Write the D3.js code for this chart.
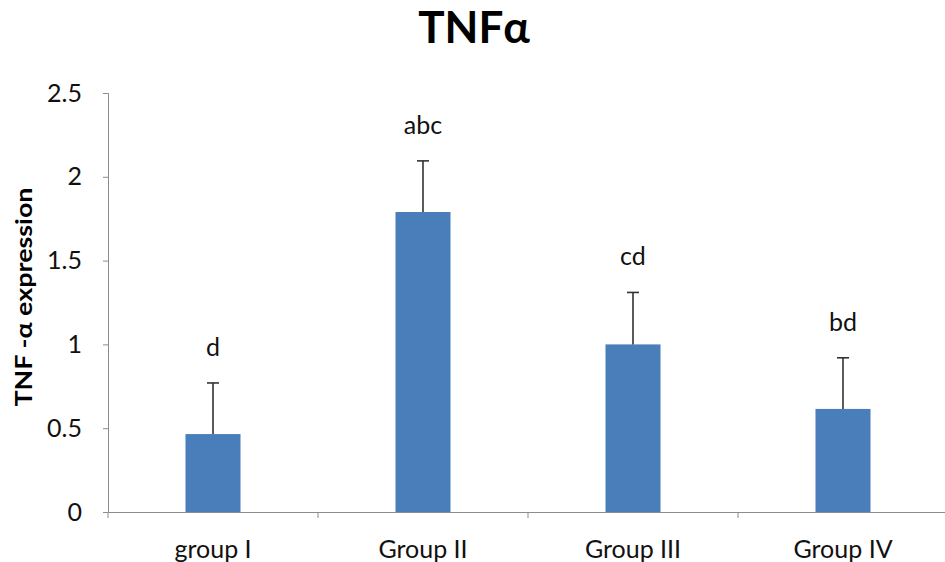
<!DOCTYPE html>
<html><head><meta charset="utf-8">
<script src="https://cdn.jsdelivr.net/npm/d3@7"></script>
<style>body{margin:0;background:#fff}svg{display:block}text{font-family:Lato,"Open Sans",sans-serif}</style>
</head><body>
<svg id="c" width="945" height="562"></svg>
<script>
const categories = ["group I", "Group II", "Group III", "Group IV"];
const values = [0.465, 1.79, 1.0, 0.615];
const errors = [0.305, 0.305, 0.31, 0.305];
const letters = ["d", "abc", "cd", "bd"];
const yTicks = [0, 0.5, 1, 1.5, 2, 2.5];

const svg = d3.select("#c");
const m = {l:108, r:948, t:93, b:512};
const x = d3.scaleBand().domain(categories).range([m.l, m.r]).paddingInner(0.738).paddingOuter(0.369);
const y = d3.scaleLinear().domain([0, 2.5]).range([m.b, m.t]);

const yAx = svg.append("g").attr("transform", `translate(${m.l},0)`)
  .call(d3.axisLeft(y).tickValues(yTicks).tickFormat(d3.format("")).tickSize(5).tickPadding(21));
yAx.select(".domain").attr("stroke", "#8c8c8c");
yAx.selectAll(".tick line").attr("stroke", "#8c8c8c");
yAx.selectAll("text").attr("font-size", 25).attr("fill", "#111");

const band = d3.scaleBand().domain(categories).range([m.l, m.r]);
const xAx = svg.append("g").attr("transform", `translate(0,${m.b})`)
  .call(d3.axisBottom(band).tickSize(0).tickPadding(28));
xAx.select(".domain").attr("stroke", "#8c8c8c");
xAx.selectAll("text").attr("font-size", 25).attr("fill", "#111");
const bounds = categories.map(c => band(c));
svg.append("g").selectAll("line").data(bounds).join("line")
  .attr("x1", d => d).attr("x2", d => d).attr("y1", m.b).attr("y2", m.b + 6)
  .attr("stroke", "#8c8c8c");

svg.append("g").selectAll("rect").data(values).join("rect")
  .attr("x", (d, i) => x(categories[i])).attr("width", x.bandwidth())
  .attr("y", d => y(d)).attr("height", d => y(0) - y(d))
  .attr("fill", "#4a7ebb");

const eb = svg.append("g").attr("stroke", "#333").attr("stroke-width", 1.6);
values.forEach((v, i) => {
  const cx = x(categories[i]) + x.bandwidth() / 2;
  eb.append("line").attr("x1", cx).attr("x2", cx).attr("y1", y(v)).attr("y2", y(v + errors[i]));
  eb.append("line").attr("x1", cx - 6).attr("x2", cx + 6).attr("y1", y(v + errors[i])).attr("y2", y(v + errors[i]));
});

svg.append("g").selectAll("text").data(letters).join("text")
  .attr("x", (d, i) => x(categories[i]) + x.bandwidth() / 2)
  .attr("y", (d, i) => y(values[i] + errors[i]) - 27)
  .attr("text-anchor", "middle").attr("font-size", 25).attr("fill", "#111").text(d => d);

svg.append("text").attr("x", 474).attr("y", 43).attr("text-anchor", "middle")
  .attr("font-size", 44).attr("font-weight", "bold").attr("fill", "#000").text("TNFα");

svg.append("text").attr("transform", "translate(32,297) rotate(-90)").attr("text-anchor", "middle")
  .attr("font-size", 23).attr("font-weight", "bold").attr("fill", "#000")
  .attr("textLength", 219).attr("lengthAdjust", "spacingAndGlyphs").text("TNF -α expression");
</script>
</body></html>
